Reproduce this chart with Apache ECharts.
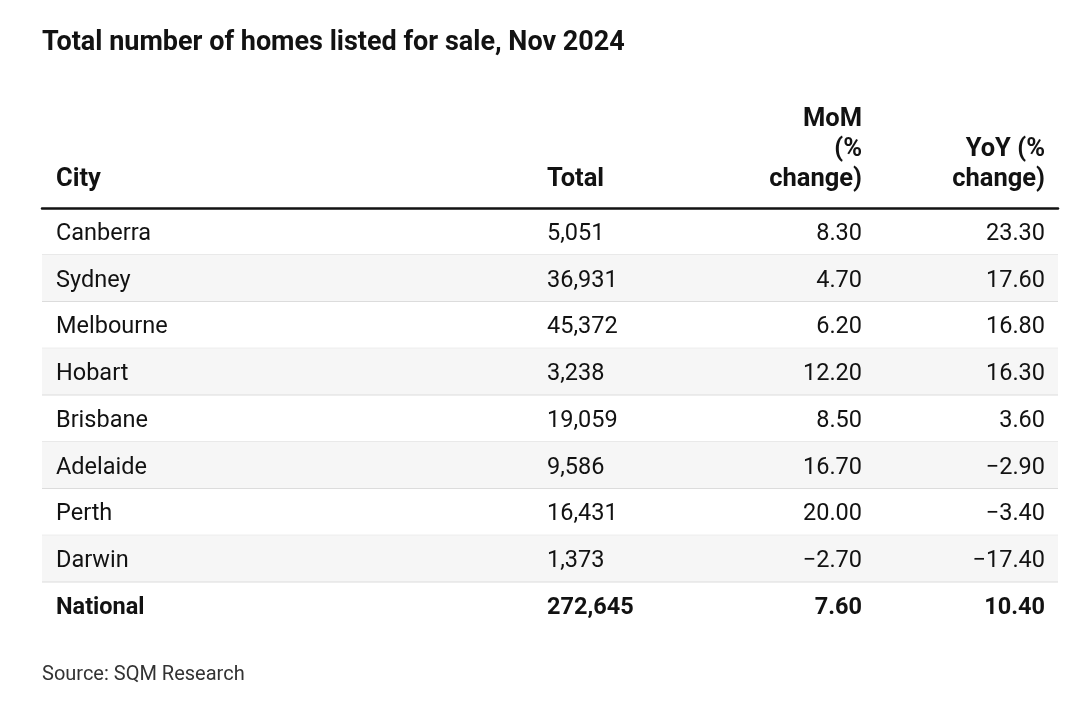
<!DOCTYPE html>
<html>
<head>
<meta charset="utf-8">
<script src="https://cdn.jsdelivr.net/npm/echarts@6/dist/echarts.min.js"></script>
<style>
html,body{margin:0;padding:0;background:#fff;}
#chart{width:1080px;height:714px;}
</style>
</head>
<body>
<div id="chart"></div>
<script>
// ---- Data ----
const cities = ['Canberra','Sydney','Melbourne','Hobart','Brisbane','Adelaide','Perth','Darwin','National'];
const totals = [5051, 36931, 45372, 3238, 19059, 9586, 16431, 1373, 272645];
const momChange = [8.30, 4.70, 6.20, 12.20, 8.50, 16.70, 20.00, -2.70, 7.60];
const yoyChange = [23.30, 17.60, 16.80, 16.30, 3.60, -2.90, -3.40, -17.40, 10.40];
const headers = ['City', 'Total', 'MoM\n(%\nchange)', 'YoY (%\nchange)'];
const titleText = 'Total number of homes listed for sale, Nov 2024';
const sourceText = 'Source: SQM Research';

// ---- Formatting ----
function fmtInt(v){ return v.toLocaleString('en-US'); }
function fmtPct(v){ const s = Math.abs(v).toFixed(2); return v < 0 ? '\u2212' + s : s; }

const FONT = 'Roboto, "Noto Sans", sans-serif';
const INK = '#121212';

// column anchors along the x value axis (0..1016 = grid width)
const colX = { city: 14, total: 505, mom: 820, yoy: 1003 };
const lastRow = cities.length - 1;

const chart = echarts.init(document.getElementById('chart'), null, {renderer: 'canvas'});

function txt(text, x, y, align, bold){
  return {
    type: 'text',
    style: {
      text: text, x: x, y: y,
      align: align, textAlign: align,
      verticalAlign: 'middle', textVerticalAlign: 'middle',
      font: (bold ? 'bold ' : '') + '23.5px ' + FONT,
      fill: INK
    }
  };
}

const HFONT = 'bold 25.5px ' + FONT;

const option = {
  animation: false,
  backgroundColor: '#ffffff',
  grid: { left: 42, right: 22, top: 208, bottom: 85.25 },
  xAxis: {
    type: 'value', min: 0, max: 1016, position: 'top',
    axisLine: { show: true, lineStyle: { color: INK, width: 2.5 } },
    axisTick: { show: false }, axisLabel: { show: false }, splitLine: { show: false }
  },
  yAxis: {
    type: 'category', data: cities, inverse: true, show: false,
    axisTick: {show:false}, axisLine:{show:false}
  },
  graphic: [
    { type: 'text', left: 42, top: 30, style: { text: titleText, font: 'bold 27px ' + FONT, fill: INK } },
    { type: 'text', left: 56, top: 165, style: { text: headers[0], font: HFONT, fill: INK, lineHeight: 30 } },
    { type: 'text', left: 547, top: 165, style: { text: headers[1], font: HFONT, fill: INK, lineHeight: 30 } },
    { type: 'text', right: 1080 - 862, top: 105, style: { text: headers[2], font: HFONT, fill: INK, lineHeight: 30, align: 'right', textAlign: 'right' } },
    { type: 'text', right: 1080 - 1045, top: 135, style: { text: headers[3], font: HFONT, fill: INK, lineHeight: 30, align: 'right', textAlign: 'right' } },
    { type: 'text', left: 42, top: 665, style: { text: sourceText, font: '20px ' + FONT, fill: '#333333' } }
  ],
  series: [{
    type: 'custom',
    data: cities.map((c, i) => [0, i]),
    encode: { x: 0, y: 1 },
    z: 1,
    renderItem: function(params, api){
      const i = api.value(1);
      const c = api.coord([0, i]);
      const right = api.coord([1016, i])[0];
      const h = api.size([0, 1])[1];
      const top = c[1] - h / 2;
      const bottom = c[1] + h / 2;
      const cy = c[1] + 2.5;
      const bold = (i === lastRow);
      const children = [];
      if (i % 2 === 1) {
        children.push({ type: 'rect', shape: { x: c[0], y: top, width: right - c[0], height: h }, style: { fill: '#f6f6f6' } });
      }
      if (i < lastRow) {
        children.push({ type: 'line', shape: { x1: c[0], y1: bottom, x2: right, y2: bottom }, style: { stroke: '#dcdcdc', lineWidth: 1 } });
      }
      children.push(txt(cities[i], api.coord([colX.city, i])[0], cy, 'left', bold));
      children.push(txt(fmtInt(totals[i]), api.coord([colX.total, i])[0], cy, 'left', bold));
      children.push(txt(fmtPct(momChange[i]), api.coord([colX.mom, i])[0], cy, 'right', bold));
      children.push(txt(fmtPct(yoyChange[i]), api.coord([colX.yoy, i])[0], cy, 'right', bold));
      return { type: 'group', children: children };
    }
  }]
};
chart.setOption(option);
</script>
</body>
</html>
